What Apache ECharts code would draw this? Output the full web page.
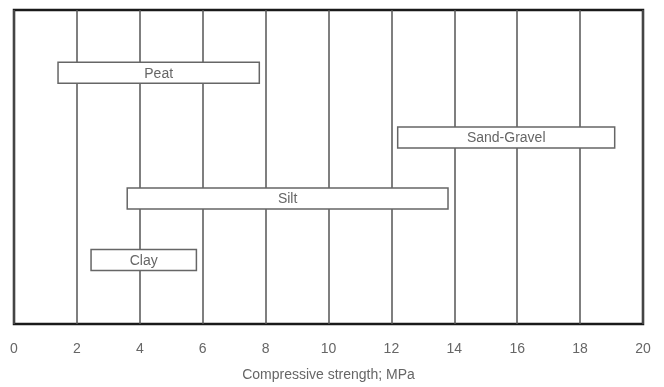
<!DOCTYPE html>
<html>
<head>
<meta charset="utf-8">
<script src="https://cdn.jsdelivr.net/npm/echarts@6/dist/echarts.min.js"></script>
<style>
  html, body { margin: 0; padding: 0; background: #fff; }
  #chart { width: 664px; height: 387px; }
</style>
</head>
<body>
<div id="chart"></div>
<script>
// soil types, top to bottom
const soils = ['Peat', 'Sand-Gravel', 'Silt', 'Clay'];
// compressive strength range, MPa
const lowMPa = [1.4, 12.2, 3.6, 2.45];
const highMPa = [7.8, 19.1, 13.8, 5.8];
// row position of each soil (0 = top edge, 5 = bottom edge)
const rowPos = [1, 2.03, 3, 3.98];
const xTicks = [0, 2, 4, 6, 8, 10, 12, 14, 16, 18, 20];

const data = soils.map((s, i) => [lowMPa[i], highMPa[i], rowPos[i], s]);

const chart = echarts.init(document.getElementById('chart'));

chart.setOption({
  backgroundColor: '#fff',
  animation: false,
  grid: { left: 14, right: 21, top: 10, bottom: 59, show: true, borderColor: '#1a1a1a', borderWidth: 2.5 },
  xAxis: {
    type: 'value',
    min: xTicks[0],
    max: xTicks[xTicks.length - 1],
    interval: 2,
    name: 'Compressive strength; MPa',
    nameLocation: 'middle',
    nameGap: 44,
    nameTextStyle: { color: '#666', fontSize: 14, fontFamily: 'Liberation Sans' },
    axisLine: { show: false },
    axisTick: { show: false },
    axisLabel: { color: '#666', fontSize: 14, margin: 18, fontFamily: 'Liberation Sans' },
    splitLine: { show: true, lineStyle: { color: '#555', width: 1.5 } }
  },
  yAxis: {
    type: 'value',
    min: 0,
    max: 5,
    inverse: true,
    show: false,
    splitLine: { show: false }
  },
  series: [{
    type: 'custom',
    data: data,
    encode: { x: [0, 1], y: 2 },
    renderItem: function (params, api) {
      const a = api.coord([api.value(0), api.value(2)]);
      const b = api.coord([api.value(1), api.value(2)]);
      const h = 21;
      return {
        type: 'group',
        children: [{
          type: 'rect',
          shape: { x: a[0], y: a[1] - h / 2, width: b[0] - a[0], height: h },
          style: { fill: '#fff', stroke: '#666', lineWidth: 1.5 }
        }, {
          type: 'text',
          style: {
            text: api.value(3),
            x: (a[0] + b[0]) / 2,
            y: a[1] + 1,
            align: 'center',
            verticalAlign: 'middle',
            fill: '#666',
            fontSize: 14,
            fontFamily: 'Liberation Sans'
          }
        }]
      };
    }
  }]
});
</script>
</body>
</html>
